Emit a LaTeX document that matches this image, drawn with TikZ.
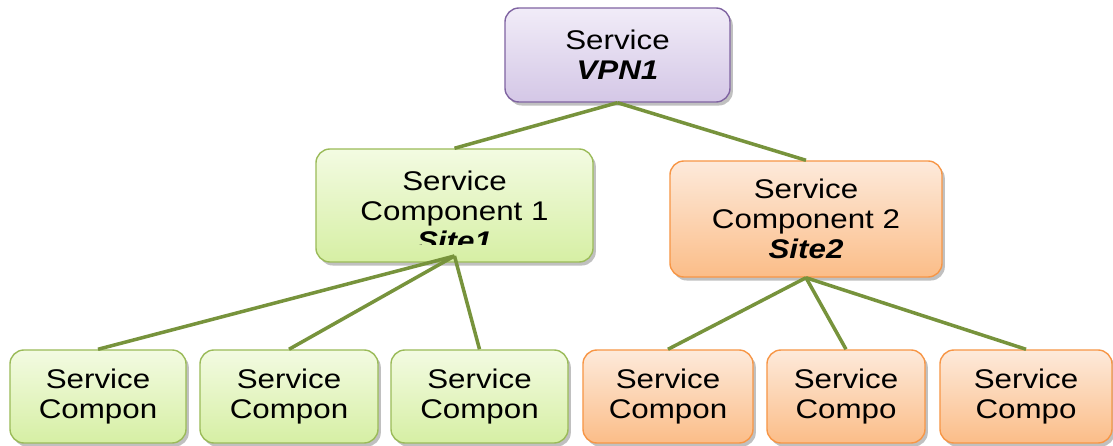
\documentclass[tikz,border=0pt]{standalone}
\usepackage{fontspec}
\setmainfont{Liberation Sans}[FakeStretch=1.16]
\usetikzlibrary{shadows}
\definecolor{linkgreen}{HTML}{77933C}
\definecolor{vpnline}{HTML}{8064A2}
\definecolor{vpntop}{HTML}{F1ECF8}
\definecolor{vpnbot}{HTML}{D4C7E6}
\definecolor{siteAline}{HTML}{9BBB59}
\definecolor{siteAtop}{HTML}{F3FBE2}
\definecolor{siteAbot}{HTML}{D6EFA4}
\definecolor{siteBline}{HTML}{F79646}
\definecolor{siteBtop}{HTML}{FDEADB}
\definecolor{siteBbot}{HTML}{FBBD88}
\tikzstyle{box}=[rounded corners=10pt,line width=1pt,inner sep=0pt,align=center,
  font=\fontsize{19.2}{21.5}\selectfont,
  drop shadow={shadow xshift=2pt,shadow yshift=-2.5pt,opacity=0.45,fill=black!55}]
\tikzstyle{vpnbox}=[box,draw=vpnline,top color=vpntop,bottom color=vpnbot]
\tikzstyle{sitea}=[box,draw=siteAline,top color=siteAtop,bottom color=siteAbot]
\tikzstyle{siteb}=[box,draw=siteBline,top color=siteBtop,bottom color=siteBbot]
\tikzstyle{boxtext}=[align=center,inner sep=0pt,font=\fontsize{19.2}{21.5}\selectfont]
\tikzstyle{link}=[draw,line width=2.5pt,linkgreen]

\begin{document}
\begin{tikzpicture}[x=0.025cm,y=-0.025cm]
    \useasboundingbox (0,0) rectangle (1113,446);

    % service and its two components
    \node[vpnbox,minimum width=5.625cm,minimum height=2.35cm] (vpn) at (617.5,55)
        {Service\\\textbf{\textit{VPN1}}};
    \node[sitea,minimum width=6.925cm,minimum height=2.825cm] (comp1) at (454.5,205.5) {};
    \begin{scope}
        \clip (316,149) rectangle (593,245);
        \node[boxtext] (comp1text) at (454.5,211) {Service\\Component 1\\\textbf{\textit{Site1}}};
    \end{scope}
    \node[siteb,minimum width=6.8cm,minimum height=2.9cm] (comp2) at (806,219)
        {Service\\Component 2\\\textbf{\textit{Site2}}};

    % lower row
    \foreach \pos/\name/\boxw/\txt in {{(98,396.5)/a1/4.4/Compon},{(289,396.5)/a2/4.45/Compon},{(479.5,396.5)/a3/4.425/Compon}}
        \node[sitea,minimum width=\boxw cm,minimum height=2.325cm] (\name) at \pos {Service\\\txt};

    \foreach \pos/\name/\boxw/\txt in {{(668,396.5)/b1/4.25/Compon},{(846,396.5)/b2/3.95/Compo},{(1026,396.5)/b3/4.3/Compo}}
        \node[siteb,minimum width=\boxw cm,minimum height=2.325cm] (\name) at \pos {Service\\\txt};

    % connect
    \coordinate (hub1) at (454.5,256);
    \foreach \source/\dest in {vpn/comp1,vpn/comp2}
        \path[link] (\source.south) -- (\dest.north);
    \foreach \dest in {a1,a2,a3}
        \path[link] (hub1) -- (\dest.north);
    \foreach \dest in {b1,b2,b3}
        \path[link] (comp2.south) -- (\dest.north);

\end{tikzpicture}
\end{document}
